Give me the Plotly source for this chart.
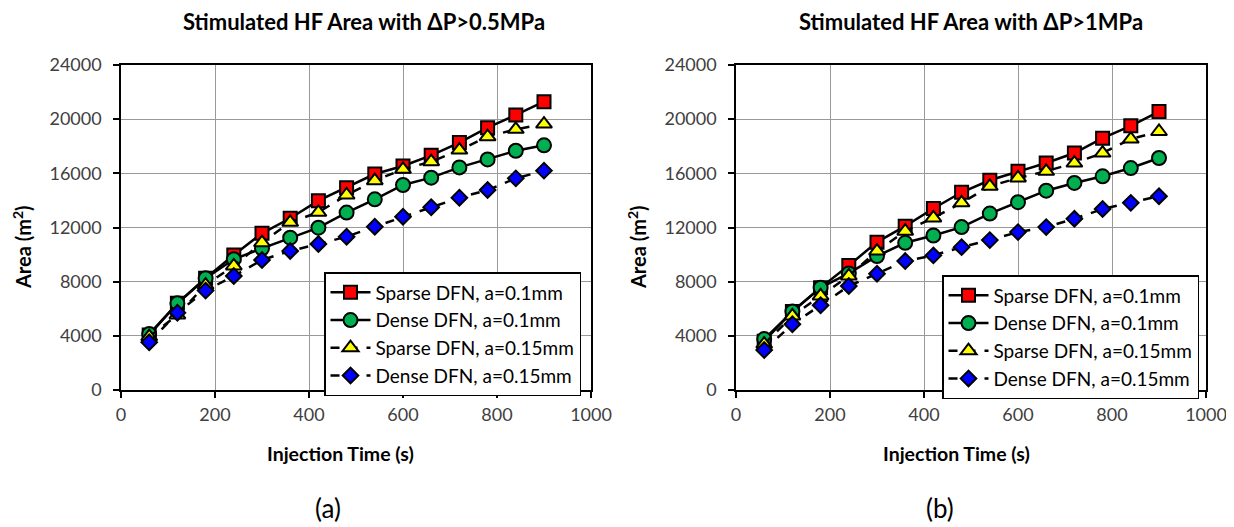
import plotly.graph_objects as go

# ---------------- data ----------------
time_s = [60, 120, 180, 240, 300, 360, 420, 480, 540, 600, 660, 720, 780, 840, 900]

series_names = ["Sparse DFN, a=0.1mm", "Dense DFN, a=0.1mm",
                "Sparse DFN, a=0.15mm", "Dense DFN, a=0.15mm"]

# Panel (a): dP > 0.5 MPa
a_sparse_01 = [4060, 6400, 8250, 9970, 11570, 12680, 13980, 14940, 15950, 16540, 17330, 18270, 19370, 20310, 21290]
a_dense_01 = [4130, 6400, 8250, 9650, 10460, 11250, 11990, 13100, 14080, 15140, 15680, 16440, 17030, 17670, 18070]
a_sparse_015 = [3940, 5540, 7750, 9160, 10880, 12380, 13120, 14400, 15460, 16300, 16860, 17720, 18710, 19250, 19640]
a_dense_015 = [3520, 5710, 7340, 8420, 9600, 10270, 10780, 11320, 12060, 12800, 13490, 14200, 14770, 15630, 16200]

# Panel (b): dP > 1 MPa
b_sparse_01 = [3600, 5800, 7560, 9200, 10920, 12100, 13400, 14600, 15490, 16150, 16760, 17500, 18600, 19510, 20560]
b_dense_01 = [3760, 5790, 7560, 8610, 9890, 10870, 11410, 12030, 13030, 13870, 14720, 15290, 15780, 16390, 17130]
b_sparse_015 = [3390, 5470, 6950, 8420, 10260, 11730, 12710, 13820, 15040, 15660, 16150, 16760, 17500, 18530, 19090]
b_dense_015 = [2950, 4860, 6260, 7680, 8590, 9520, 9940, 10550, 11070, 11660, 12030, 12640, 13370, 13820, 14310]

x_ticks = [0, 200, 400, 600, 800, 1000]
x_tick_labels = ["0", "200", "400", "600", "800", "1000"]
y_ticks = [0, 4000, 8000, 12000, 16000, 20000, 24000]
y_tick_labels = ["0", "4000", "8000", "12000", "16000", "20000", "24000"]

titles = ["Stimulated HF Area with ΔP>0.5MPa", "Stimulated HF Area with ΔP>1MPa"]
panel_labels = ["(a)", "(b)"]
x_title = "Injection Time (s)"
y_title = "Area (m<sup>2</sup>)"

# ---------------- styles ----------------
FONT = "Lato"
PAGE_W, PAGE_H = 1234, 527
OFF = 8  # default body margin of the page
W, H = PAGE_W - OFF, PAGE_H - OFF


def px(xp):
    return (xp - OFF) / W


def py(yp):
    return 1 - (yp - OFF) / H


styles = [
    dict(symbol="square", color="#ff0000", size=13, dash="solid"),
    dict(symbol="circle", color="#00b050", size=14, dash="solid"),
    dict(symbol="triangle-up", color="#ffff00", size=14, dash="dash"),
    dict(symbol="diamond", color="#0000ff", size=12, dash="dash"),
]

panels = [
    dict(data=[a_sparse_01, a_dense_01, a_sparse_015, a_dense_015], xd=(121, 591), legend="legend",
         title_x=364, xtitle_x=340, ytitle_x=22, label_x=328),
    dict(data=[b_sparse_01, b_dense_01, b_sparse_015, b_dense_015], xd=(736, 1206), legend="legend2",
         title_x=971, xtitle_x=956, ytitle_x=637, label_x=940),
]
y_top, y_bot = 65, 390

fig = go.Figure()
for i, p in enumerate(panels):
    xa = "x" if i == 0 else "x2"
    ya = "y" if i == 0 else "y2"
    for name, vals, st in zip(series_names, p["data"], styles):
        fig.add_trace(go.Scatter(
            x=time_s, y=vals, name=name, mode="lines+markers",
            xaxis=xa, yaxis=ya, legend=p["legend"],
            line=dict(color="black", width=2.5, dash=st["dash"]),
            marker=dict(symbol=st["symbol"], color=st["color"], size=st["size"],
                        line=dict(color="black", width=2)),
        ))

axis_common = dict(
    showline=True, linecolor="black", linewidth=1.5, mirror=True,
    showgrid=True, gridcolor="#999999", gridwidth=1,
    ticks="outside", ticklen=6, tickcolor="black", tickwidth=1.5,
    tickfont=dict(family=FONT, size=18, color="#404040"),
    zeroline=False, automargin=False,
)

layout = dict(
    width=W, height=H, margin=dict(l=0, r=0, t=0, b=0, autoexpand=False),
    paper_bgcolor="white", plot_bgcolor="rgba(0,0,0,0)",
    font=dict(family=FONT),
    showlegend=True,
)
for i, p in enumerate(panels):
    sfx = "" if i == 0 else "2"
    layout["xaxis" + sfx] = dict(
        axis_common, domain=[px(p["xd"][0]), px(p["xd"][1])],
        range=[0, 1000], tickvals=x_ticks, ticktext=x_tick_labels, anchor="y" + sfx,
        ticklabelstandoff=2,
    )
    layout["yaxis" + sfx] = dict(
        axis_common, domain=[py(y_bot), py(y_top)],
        range=[0, 24000], tickvals=y_ticks, ticktext=y_tick_labels, anchor="x" + sfx,
        ticklabelstandoff=8,
    )

legend_common = dict(
    bgcolor="white", bordercolor="black", borderwidth=1.5,
    font=dict(family=FONT, size=19, color="black"),
    xanchor="left", yanchor="top", tracegroupgap=0,
    itemwidth=40,
)
layout["legend"] = dict(legend_common, x=px(324), y=py(272))
layout["legend2"] = dict(legend_common, x=px(942), y=py(275))

fig.update_layout(**layout)

for i, p in enumerate(panels):
    fig.add_annotation(
        text="<b>" + titles[i] + "</b>", xref="paper", yref="paper",
        x=px(p["title_x"]), y=py(21), showarrow=False,
        font=dict(family=FONT, size=22, color="black"), xanchor="center", yanchor="middle",
    )
    fig.add_annotation(
        text="<b>" + x_title + "</b>", xref="paper", yref="paper",
        x=px(p["xtitle_x"]), y=py(453), showarrow=False,
        font=dict(family=FONT, size=19.5, color="black"), xanchor="center", yanchor="middle",
    )
    fig.add_annotation(
        text="<b>" + y_title + "</b>", xref="paper", yref="paper", textangle=-90,
        x=px(p["ytitle_x"]), y=py(247), showarrow=False,
        font=dict(family=FONT, size=20, color="black"), xanchor="center", yanchor="middle",
    )
    fig.add_annotation(
        text=panel_labels[i], xref="paper", yref="paper",
        x=px(p["label_x"]), y=py(508), showarrow=False,
        font=dict(family=FONT, size=26, color="black"), xanchor="center", yanchor="middle",
    )

fig.write_html("out.html")
